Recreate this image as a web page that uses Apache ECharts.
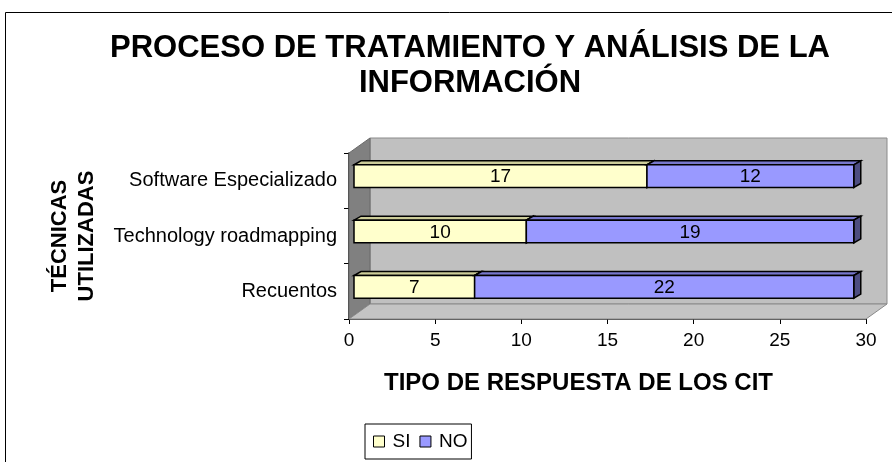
<!DOCTYPE html>
<html>
<head>
<meta charset="utf-8">
<script src="https://cdn.jsdelivr.net/npm/echarts@6/dist/echarts.min.js"></script>
<style>
  html, body { margin: 0; padding: 0; background: #fff; }
  #chart { width: 892px; height: 462px; }
</style>
</head>
<body>
<div id="chart"></div>
<script>
// categories from bottom to top
var categories = ['Recuentos', 'Technology roadmapping', 'Software Especializado']
var siValues = [7, 10, 17]
var noValues = [22, 19, 12]
var xTicks = [0, 5, 10, 15, 20, 25, 30]

var FONT = '"Liberation Sans", Arial, sans-serif'
var DEPTH = [21, -15]     // depth of the 3d box
var BAR_OFF = [5, -4.5]   // bar front face offset from the front plane
var BAR_DEPTH = [7, -4]

var chart = echarts.init(document.getElementById('chart'))

function segData(starts, vals) {
  return vals.map(function (v, i) { return [starts[i], starts[i] + v, i, v] })
}

function barRender(front, top, side) {
  return function (params, api) {
    var p0 = api.coord([api.value(0), api.value(2)])
    var p1 = api.coord([api.value(1), api.value(2)])
    var h = api.size([0, 1])[1] * 0.41
    var x0 = p0[0] + BAR_OFF[0], x1 = p1[0] + BAR_OFF[0]
    var yt = p0[1] + BAR_OFF[1] - h / 2, yb = yt + h
    var dx = BAR_DEPTH[0], dy = BAR_DEPTH[1]
    var line = { stroke: '#000', lineWidth: 1.5 }
    return {
      type: 'group',
      children: [
        { type: 'polygon', shape: { points: [[x0, yt], [x1, yt], [x1 + dx, yt + dy], [x0 + dx, yt + dy]] },
          style: Object.assign({ fill: top }, line) },
        { type: 'polygon', shape: { points: [[x1, yt], [x1 + dx, yt + dy], [x1 + dx, yb + dy], [x1, yb]] },
          style: Object.assign({ fill: side }, line) },
        { type: 'rect', shape: { x: x0, y: yt, width: x1 - x0, height: h },
          style: Object.assign({ fill: front }, line) },
        { type: 'text', x: (x0 + x1) / 2, y: (yt + yb) / 2 + 1,
          style: { text: String(api.value(3)), align: 'center', verticalAlign: 'middle',
            font: '19px ' + FONT, fill: '#000' } }
      ]
    }
  }
}

function wallRender(params, api) {
  var r = params.coordSys
  var dx = DEPTH[0], dy = DEPTH[1]
  var L = r.x, R = r.x + r.width, T = r.y, B = r.y + r.height
  return {
    type: 'group',
    children: [
      { type: 'rect', shape: { x: L + dx, y: T + dy, width: r.width, height: r.height },
        style: { fill: '#C0C0C0', stroke: '#8a8a8a', lineWidth: 1 } },
      { type: 'polygon', shape: { points: [[L, T], [L + dx, T + dy], [L + dx, B + dy], [L, B]] },
        style: { fill: '#808080', stroke: '#6a6a6a', lineWidth: 1 } },
      { type: 'polygon', shape: { points: [[L, B], [L + dx, B + dy], [R + dx, B + dy], [R, B]] },
        style: { fill: '#C4C4C4', stroke: '#8a8a8a', lineWidth: 1 } }
    ]
  }
}

var option = {
  animation: false,
  backgroundColor: '#fff',
  graphic: [
    { type: 'rect', shape: { x: 5.5, y: 12.5, width: 900, height: 500 },
      style: { fill: 'none', stroke: '#000', lineWidth: 1 }, z: 100 },
    { type: 'text', x: 470, y: 31,
      style: { text: 'PROCESO DE TRATAMIENTO Y ANÁLISIS DE LA\nINFORMACIÓN', align: 'center',
        font: 'bold 31px ' + FONT, lineHeight: 35, fill: '#000' } }
  ],
  legend: {
    left: 365, top: 424,
    itemWidth: 11, itemHeight: 11, itemGap: 9,
    padding: [8, 4, 8, 8],
    borderColor: '#000', borderWidth: 1,
    textStyle: { fontFamily: FONT, fontSize: 19, color: '#000', padding: [0, 0, 0, 3] },
    data: [
      { name: 'SI', icon: 'rect', itemStyle: { color: '#FFFFCC', borderColor: '#000', borderWidth: 1 } },
      { name: 'NO', icon: 'rect', itemStyle: { color: '#9999FF', borderColor: '#000', borderWidth: 1 } }
    ]
  },
  grid: { left: 349, top: 153, width: 517, height: 166, containLabel: false },
  xAxis: {
    type: 'value', min: 0, max: 30, interval: 5,
    name: 'TIPO DE RESPUESTA DE LOS CIT', nameLocation: 'middle', nameGap: 52,
    nameTextStyle: { fontFamily: FONT, fontWeight: 'bold', fontSize: 24, color: '#000',
      padding: [0, 58, 0, 0] },
    axisLine: { show: true, lineStyle: { color: '#000', width: 1.5 } },
    axisTick: { show: true, length: 5, lineStyle: { color: '#000' } },
    axisLabel: { fontFamily: FONT, fontSize: 19, color: '#000', margin: 12 },
    splitLine: { show: false }
  },
  yAxis: {
    type: 'category', data: categories,
    name: 'TÉCNICAS\nUTILIZADAS', nameLocation: 'middle', nameRotate: 90, nameGap: 249,
    nameTextStyle: { fontFamily: FONT, fontWeight: 'bold', fontSize: 22, lineHeight: 27, color: '#000' },
    axisLine: { show: true, lineStyle: { color: '#000', width: 1.5 } },
    axisTick: { show: true, length: 5, lineStyle: { color: '#000' } },
    axisLabel: { fontFamily: FONT, fontSize: 20, color: '#000', margin: 12 },
    splitLine: { show: false }
  },
  series: [
    { type: 'custom', name: 'walls', silent: true, z: 1,
      renderItem: wallRender, data: [[0, 0]], encode: { x: 0, y: 1 } },
    { type: 'custom', name: 'SI', z: 2, color: '#FFFFCC',
      renderItem: barRender('#FFFFCC', '#CCCC99', '#999966'),
      data: segData([0, 0, 0], siValues), encode: { x: [0, 1], y: 2 } },
    { type: 'custom', name: 'NO', z: 3, color: '#9999FF',
      renderItem: barRender('#9999FF', '#7777CC', '#4D4D80'),
      data: segData(siValues, noValues), encode: { x: [0, 1], y: 2 } }
  ]
}

chart.setOption(option)
</script>
</body>
</html>
